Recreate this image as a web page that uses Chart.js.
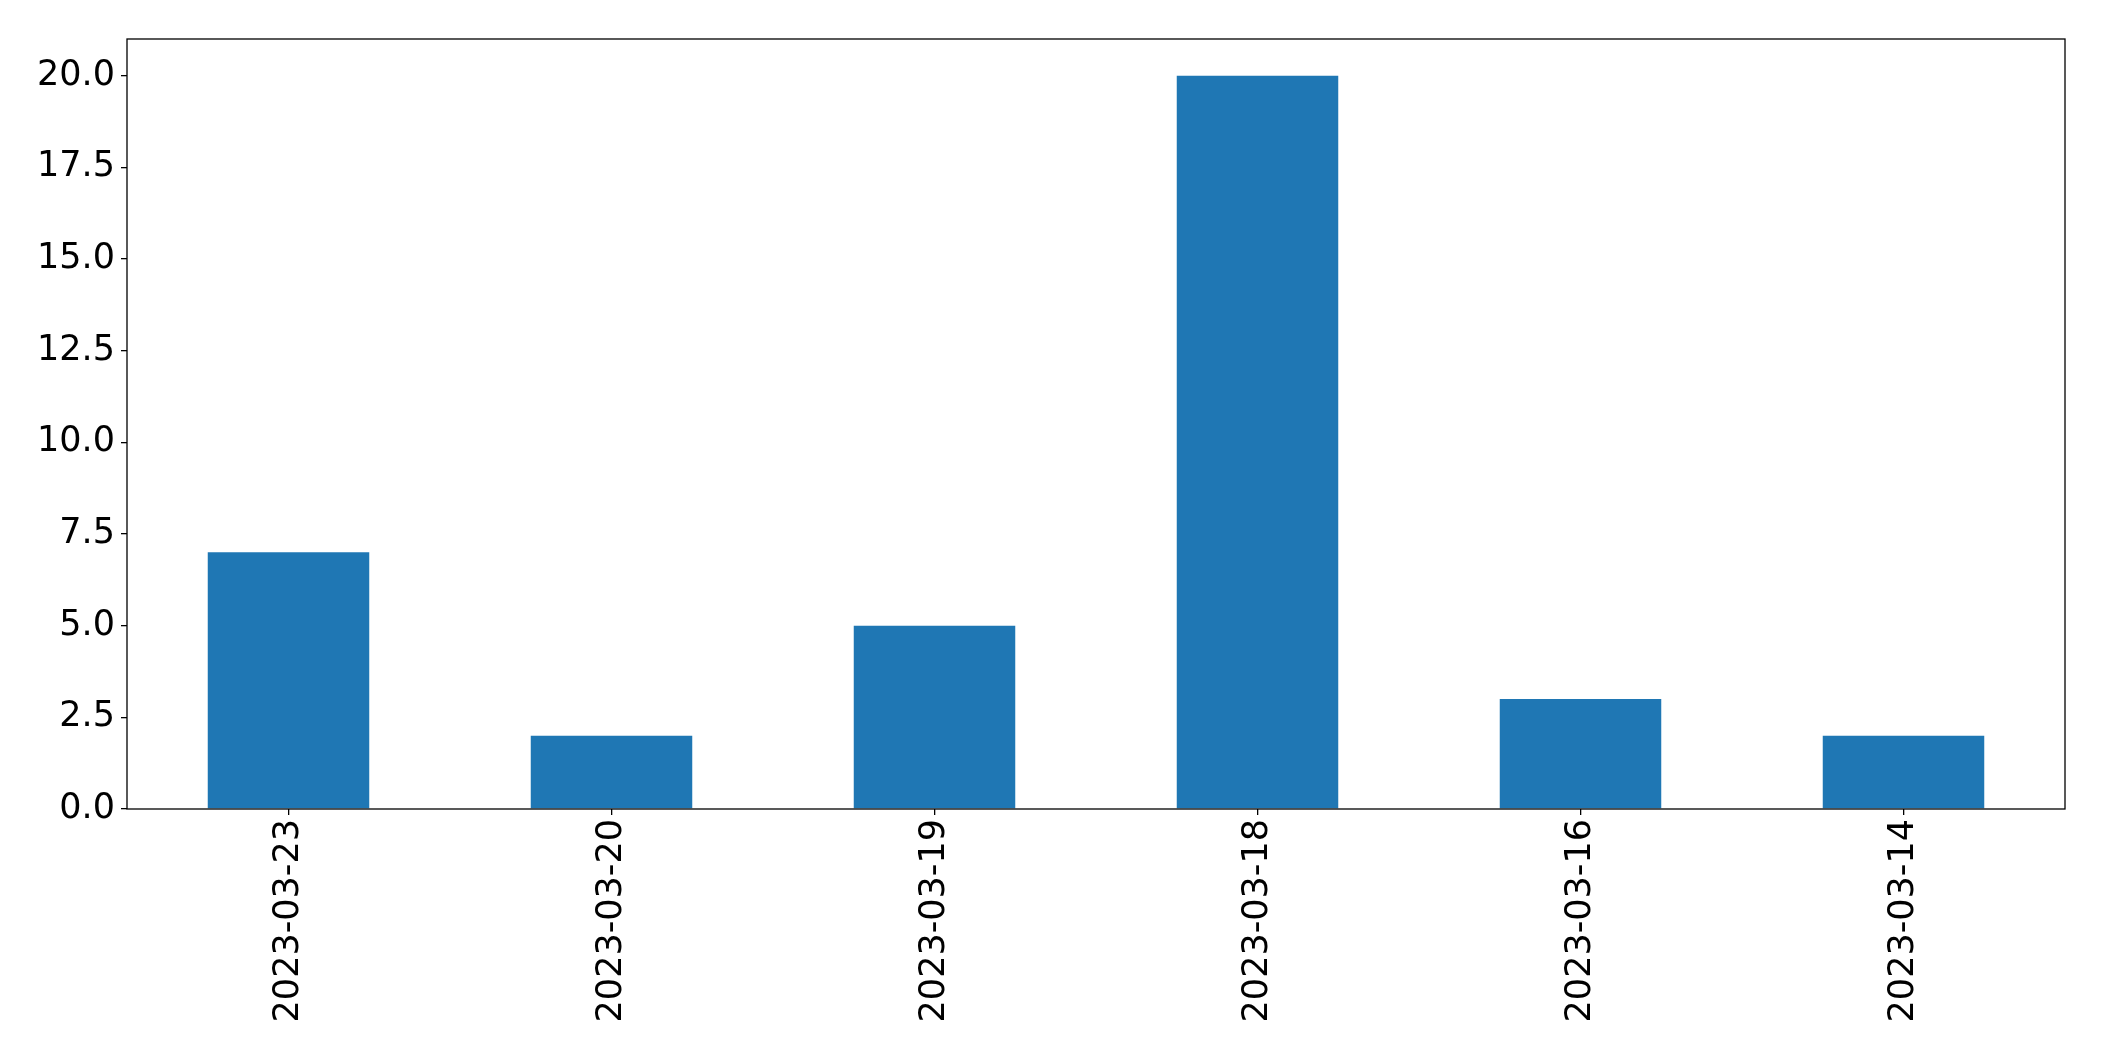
<!DOCTYPE html>
<html lang="en">
<head>
  <meta charset="UTF-8" />
  <title>Counts by date</title>
  <style>
    body { margin: 0; background: #ffffff; }
    canvas { display: block; }
  </style>
</head>
<body>
  <canvas id="chart" width="2104" height="1061"></canvas>

  <script src="https://cdn.jsdelivr.net/npm/chart.js"></script>
  <script>
    const dates = ['2023-03-23', '2023-03-20', '2023-03-19', '2023-03-18', '2023-03-16', '2023-03-14'];
    const counts = [7, 2, 5, 20, 3, 2];

    const fontFamily = "'DejaVu Sans', sans-serif";

    // frame around the plot area, like a matplotlib axes box
    const frame = {
      id: 'frame',
      afterDraw(chart) {
        const a = chart.chartArea;
        const ctx = chart.ctx;
        ctx.save();
        ctx.strokeStyle = '#000';
        ctx.lineWidth = 1.3;
        ctx.strokeRect(a.left, a.top, a.right - a.left, a.bottom - a.top);
        ctx.restore();
      }
    };

    new Chart(document.getElementById('chart'), {
      type: 'bar',
      data: {
        labels: dates,
        datasets: [{
          data: counts,
          backgroundColor: '#1f77b4',
          borderWidth: 0,
          categoryPercentage: 0.5,
          barPercentage: 1.0
        }]
      },
      options: {
        responsive: false,
        animation: false,
        layout: { padding: { top: 39, right: 39, left: 0, bottom: 0 } },
        plugins: {
          legend: { display: false },
          tooltip: { enabled: false }
        },
        scales: {
          x: {
            grid: {
              offset: false,
              drawOnChartArea: false,
              drawTicks: true,
              tickLength: 6,
              tickColor: '#000',
              lineWidth: 1.3
            },
            border: { display: false },
            ticks: {
              color: '#000',
              font: { family: fontFamily, size: 35 },
              maxRotation: 90,
              minRotation: 90,
              padding: 4,
              autoSkip: false
            },
            afterFit(scale) { scale.height = 252; }
          },
          y: {
            min: 0,
            max: 21,
            grid: {
              drawOnChartArea: false,
              drawTicks: true,
              tickLength: 6,
              tickColor: '#000',
              lineWidth: 1.3
            },
            border: { display: false },
            ticks: {
              stepSize: 2.5,
              includeBounds: false,
              color: '#000',
              font: { family: fontFamily, size: 35 },
              padding: 6,
              callback: v => v.toFixed(1)
            },
            afterFit(scale) { scale.width = 127; }
          }
        }
      },
      plugins: [frame]
    });
  </script>
</body>
</html>
